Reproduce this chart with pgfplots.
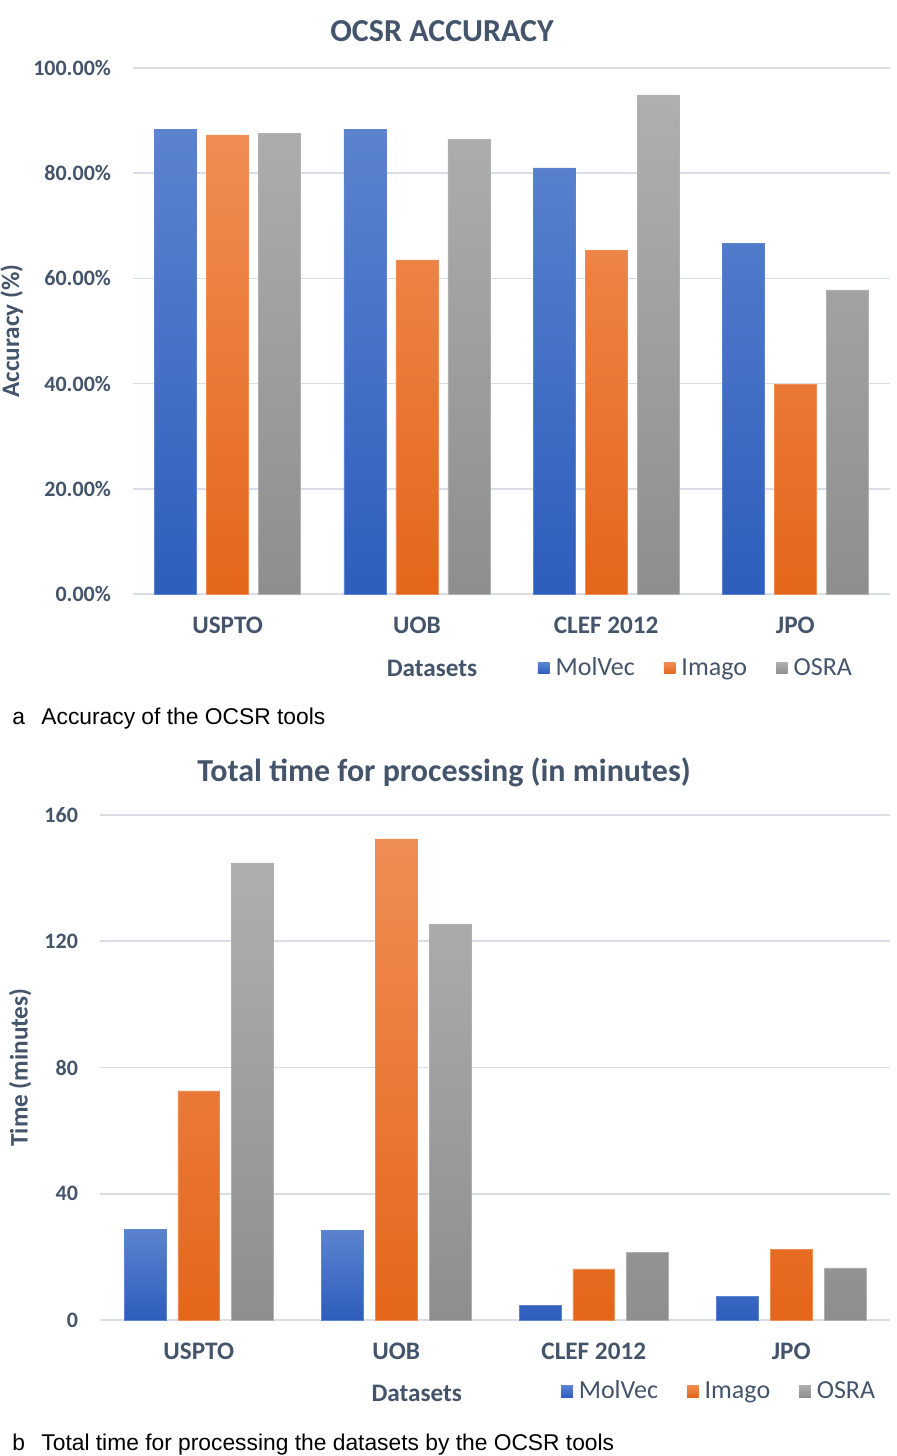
\documentclass[border=0pt]{standalone}
\usepackage{pgfplots}
\pgfplotsset{compat=1.18}
\usepackage{fontspec}
\setmainfont{Carlito}
\newfontfamily\arial{Liberation Sans}

\definecolor{textc}{HTML}{44546A}
\definecolor{gridc}{HTML}{D9DDE5}
\definecolor{blueTop}{HTML}{5B83CE}
\definecolor{blueBot}{HTML}{2E5DBD}
\definecolor{orangeTop}{HTML}{F08D55}
\definecolor{orangeBot}{HTML}{E4661A}
\definecolor{grayTop}{HTML}{AFAFAF}
\definecolor{grayBot}{HTML}{8E8E8E}

\tikzset{
  lab/.style={font=\fontsize{12.6}{14}\selectfont\bfseries, text=textc},
  figcaption/.style={font=\arial\fontsize{11.4}{13}\selectfont, anchor=base west, inner sep=0pt},
}

\pgfplotsset{
  ocsr/.style={
    scale only axis,
    xmin=-0.5, xmax=3.5, ymin=0,
    xtick={0,1,2,3},
    xticklabels={USPTO,UOB,CLEF 2012,JPO},
    axis line style={draw=none},
    major tick length=0pt,
    ymajorgrids,
    grid style={gridc, line width=0.8pt},
    /pgf/number format/assume math mode=true,
    tick label style={font=\fontsize{11}{13}\selectfont\bfseries, text=textc},
    xticklabel style={font=\fontsize{12.6}{14}\selectfont\bfseries, yshift=-8pt},
    yticklabel style={xshift=-7.5pt},
    legend columns=3,
    legend style={draw=none, fill=none, font=\fontsize{13}{15}\selectfont, text=textc,
      /tikz/every odd column/.append style={column sep=1pt},
      /tikz/every even column/.append style={column sep=12.5pt}},
    legend image code/.code={\path[#1, draw=none] (0pt,-2.9pt) rectangle (5.8pt,2.9pt);},
    legend cell align=left,
  },
  molvec/.style={ybar, draw=blueTop, line width=0.3pt, top color=blueTop, bottom color=blueBot},
  imago/.style={ybar, draw=orangeTop, line width=0.3pt, top color=orangeTop, bottom color=orangeBot},
  osra/.style={ybar, draw=grayTop, line width=0.3pt, top color=grayTop, bottom color=grayBot},
}

\begin{document}
\begin{tikzpicture}
\useasboundingbox (0,0) rectangle (448pt,-728pt);

% ---- a: accuracy ----
\node[font=\fontsize{16}{18}\selectfont\bfseries, text=textc] at (221pt,-15.5pt) {OCSR ACCURACY};
\begin{axis}[ocsr,
  at={(66.5pt,-297pt)}, anchor=south west,
  width=378.5pt, height=263pt,
  ymax=100,
  ytick={0,20,40,60,80,100},
  yticklabels={0.00\%,20.00\%,40.00\%,60.00\%,80.00\%,100.00\%},
  bar width=0.222,
  xlabel={Datasets},
  every axis x label/.style={/tikz/lab, at={(axis description cs:0.395,-0.141)}, anchor=center},
  ylabel={Accuracy (\%)},
  every axis y label/.style={/tikz/lab, at={(axis description cs:-0.16,0.5)}, rotate=90, anchor=center},
  legend style={at={(axis description cs:0.745,-0.141)}, anchor=center},
]
\addplot[molvec, bar shift=-0.275] coordinates {(0,88.4) (1,88.4) (2,81.0) (3,66.7)};
\addplot[imago, bar shift=0] coordinates {(0,87.3) (1,63.5) (2,65.4) (3,39.9)};
\addplot[osra, bar shift=0.275] coordinates {(0,87.6) (1,86.5) (2,94.9) (3,57.8)};
\legend{MolVec,Imago,OSRA}
\end{axis}
\node[figcaption] at (6pt,-362pt) {a};
\node[figcaption] at (20.5pt,-362pt) {Accuracy of the OCSR tools};

% ---- b: processing time ----
\node[font=\fontsize{16}{18}\selectfont\bfseries, text=textc] at (222pt,-386pt) {Total time for processing (in minutes)};
\begin{axis}[ocsr,
  at={(50pt,-660pt)}, anchor=south west,
  width=395pt, height=252.5pt,
  ymax=160,
  ytick={0,40,80,120,160},
  bar width=0.212,
  xlabel={Datasets},
  every axis x label/.style={/tikz/lab, at={(axis description cs:0.401,-0.145)}, anchor=center},
  ylabel={Time (minutes)},
  every axis y label/.style={/tikz/lab, at={(axis description cs:-0.101,0.5)}, rotate=90, anchor=center},
  legend style={at={(axis description cs:0.785,-0.141)}, anchor=center},
]
\addplot[molvec, bar shift=-0.272] coordinates {(0,28.8) (1,28.5) (2,4.75) (3,7.6)};
\addplot[imago, bar shift=0] coordinates {(0,72.6) (1,152.4) (2,16.2) (3,22.5)};
\addplot[osra, bar shift=0.272] coordinates {(0,144.8) (1,125.5) (2,21.5) (3,16.5)};
\legend{MolVec,Imago,OSRA}
\end{axis}
\node[figcaption] at (6pt,-725pt) {b};
\node[figcaption] at (20.5pt,-725pt) {Total time for processing the datasets by the OCSR tools};
\end{tikzpicture}
\end{document}
